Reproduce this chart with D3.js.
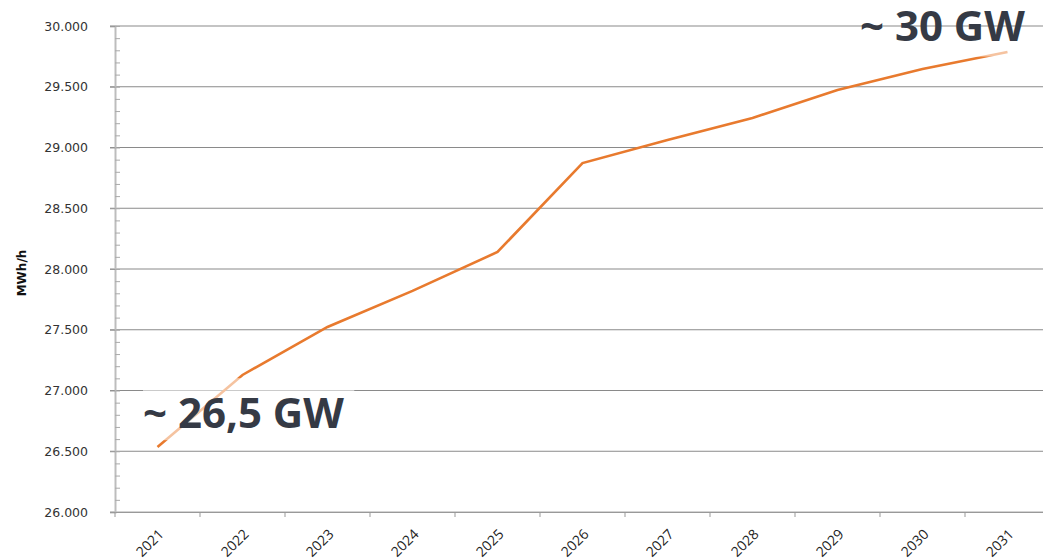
<!DOCTYPE html>
<html>
<head>
  <script src="https://d3js.org/d3.v7.min.js"></script>
  <style>
    body { margin: 0; padding: 0; background: white; }
    svg { display: block; }
  </style>
</head>
<body>
  <svg id="chart" width="1043" height="560"></svg>
  <script>
    const years = ["2021", "2022", "2023", "2024", "2025", "2026", "2027", "2028", "2029", "2030", "2031"];
    const demand = [26535, 27128, 27523, 27820, 28140, 28872, 29062, 29243, 29473, 29646, 29786];
    const yTicks = [26000, 26500, 27000, 27500, 28000, 28500, 29000, 29500, 30000];
    const noteText = ["~ 26,5 GW", "~ 30 GW"];
    const noteYear = ["2021", "2030"];
    const noteValue = [26690, 29880];

    const svg = d3.select("#chart");
    const mLeft = 115, mRight = 1050, mTop = 26, mBottom = 512;

    const x = d3.scaleBand().domain(years).range([mLeft, mRight]);
    const y = d3.scaleLinear().domain([26000, 30000]).range([mBottom, mTop]);
    const fmt = d => d3.format(".3f")(d / 1000);

    // gridlines
    svg.append("g")
      .selectAll("line")
      .data(yTicks)
      .join("line")
      .attr("x1", mLeft - 5).attr("x2", 1043)
      .attr("y1", d => y(d)).attr("y2", d => y(d))
      .attr("stroke", d => d === 26000 ? "#aaa" : "#8a8a8a")
      .attr("stroke-width", 1.2);

    // y axis
    const yAxis = svg.append("g").attr("transform", `translate(${mLeft},0)`)
      .call(d3.axisLeft(y).tickValues(yTicks).tickFormat(fmt).tickSize(5).tickPadding(22));
    yAxis.select(".domain").attr("stroke", "#bdbdbd").attr("stroke-width", 2);
    yAxis.selectAll(".tick line").attr("stroke", "#999");
    yAxis.selectAll("text")
      .attr("font-family", "DejaVu Sans, Verdana, sans-serif")
      .attr("font-size", 12.5).attr("fill", "#333");

    // minor ticks
    svg.append("g").attr("transform", `translate(${mLeft},0)`)
      .call(d3.axisRight(y).ticks(40).tickSize(5).tickFormat(""))
      .call(g => g.select(".domain").remove())
      .selectAll(".tick line").attr("stroke", "#aaa");

    // x axis
    const xAxis = svg.append("g").attr("transform", `translate(0,${mBottom})`)
      .call(d3.axisBottom(x).tickSize(0).tickPadding(10));
    xAxis.select(".domain").attr("stroke", "#999").attr("stroke-width", 1.2);
    xAxis.selectAll("text")
      .attr("font-family", "Open Sans, sans-serif")
      .attr("font-size", 14).attr("fill", "#222")
      .attr("text-anchor", "end")
      .attr("dy", 0)
      .attr("transform", "translate(0,16) rotate(-45)");
    xAxis.selectAll(".bound")
      .data(years)
      .join("line")
      .attr("class", "bound")
      .attr("x1", d => x(d)).attr("x2", d => x(d))
      .attr("y1", 0).attr("y2", 5)
      .attr("stroke", "#999");

    // y label
    svg.append("text")
      .attr("transform", `translate(26,${(mTop + mBottom) / 2 + 4}) rotate(-90)`)
      .attr("text-anchor", "middle")
      .attr("font-family", "DejaVu Sans, Verdana, sans-serif")
      .attr("font-size", 12).attr("font-weight", "bold").attr("fill", "#111")
      .text("MWh/h");

    // line
    const line = d3.line()
      .x((d, i) => x(years[i]) + x.bandwidth() / 2)
      .y(d => y(d));
    svg.append("path")
      .datum(demand)
      .attr("fill", "none")
      .attr("stroke", "#e87a2e")
      .attr("stroke-width", 2.6)
      .attr("d", line);

    // annotations with a translucent white backing
    const boxTop = [-50, -12];
    const boxBottom = [12, 16];
    const shiftX = [28, -20];
    const ann = svg.append("g");
    noteText.forEach((txt, i) => {
      const bx = x(noteYear[i]) + shiftX[i];
      const by = y(noteValue[i]);
      const t = ann.append("text")
        .attr("x", bx)
        .attr("y", by)
        .attr("font-family", "Open Sans, sans-serif")
        .attr("font-size", 42).attr("font-weight", "bold")
        .attr("fill", "#353a45")
        .text(txt);
      const b = t.node().getBBox();
      ann.insert("rect", () => t.node())
        .attr("x", b.x).attr("y", by + boxTop[i])
        .attr("width", b.width + 10).attr("height", boxBottom[i] - boxTop[i])
        .attr("fill", "white").attr("fill-opacity", 0.55);
    });
  </script>
</body>
</html>
